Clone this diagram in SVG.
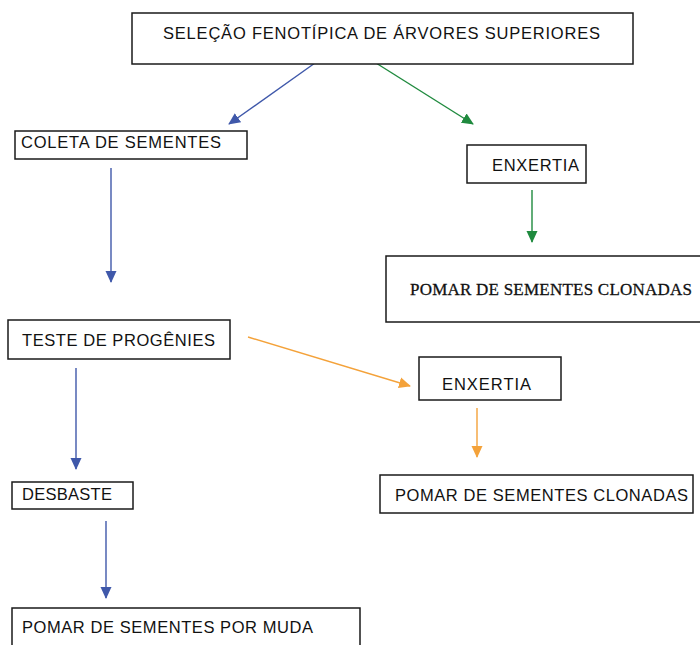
<svg xmlns="http://www.w3.org/2000/svg" width="700" height="645" viewBox="0 0 700 645">
<style>
.box{fill:#fff;stroke:#1a1a1a;stroke-width:1.5}
.t{font-family:"Liberation Sans",Arial,sans-serif;font-size:16.5px;fill:#111}
.s{font-family:"Liberation Serif","Times New Roman",serif;font-size:17px;fill:#111;stroke:#111;stroke-width:0.3}
.b{stroke:#3f58aa;stroke-width:1.4;fill:none}
.g{stroke:#1f8a3e;stroke-width:1.4;fill:none}
.o{stroke:#f4a23a;stroke-width:1.4;fill:none}
</style>
<defs>
<marker id="mb" markerWidth="12" markerHeight="12" refX="11" refY="6" orient="auto" markerUnits="userSpaceOnUse"><path d="M0,0.5 L12,6 L0,11.5 Z" fill="#3f58aa"/></marker>
<marker id="mg" markerWidth="12" markerHeight="12" refX="11" refY="6" orient="auto" markerUnits="userSpaceOnUse"><path d="M0,0.5 L12,6 L0,11.5 Z" fill="#1f8a3e"/></marker>
<marker id="mo" markerWidth="12" markerHeight="12" refX="11" refY="6" orient="auto" markerUnits="userSpaceOnUse"><path d="M0,0.5 L12,6 L0,11.5 Z" fill="#f4a23a"/></marker>
</defs>
<rect width="700" height="645" fill="#fff"/>
<g id="connectors">
<line class="b" x1="315" y1="63" x2="229" y2="124" marker-end="url(#mb)"/>
<line class="g" x1="376" y1="63" x2="473" y2="124" marker-end="url(#mg)"/>
<line class="b" x1="111" y1="168" x2="111" y2="282" marker-end="url(#mb)"/>
<line class="g" x1="532" y1="190" x2="532" y2="242" marker-end="url(#mg)"/>
<line class="b" x1="76" y1="368" x2="76" y2="469" marker-end="url(#mb)"/>
<line class="o" x1="248" y1="337" x2="410" y2="386" marker-end="url(#mo)"/>
<line class="o" x1="477" y1="408" x2="477" y2="457" marker-end="url(#mo)"/>
<line class="b" x1="106" y1="521" x2="106" y2="598" marker-end="url(#mb)"/>
</g>
<g id="selecao">
<rect class="box" x="132" y="13" width="501" height="51"/>
<text class="t" x="163" y="39" textLength="437" lengthAdjust="spacing">SELEÇÃO FENOTÍPICA DE ÁRVORES SUPERIORES</text>
</g>
<g id="coleta">
<rect class="box" x="15" y="131" width="232" height="28"/>
<text class="t" x="21" y="148" textLength="200" lengthAdjust="spacing">COLETA DE SEMENTES</text>
</g>
<g id="enxertia1">
<rect class="box" x="467" y="145" width="119" height="38"/>
<text class="t" x="492" y="171" textLength="87" lengthAdjust="spacing">ENXERTIA</text>
</g>
<g id="pomar-clonadas1">
<path class="box" d="M700,256 H386 V322 H700"/>
<text class="s" x="410" y="295" textLength="282" lengthAdjust="spacing">POMAR DE SEMENTES CLONADAS</text>
</g>
<g id="teste">
<rect class="box" x="8" y="320" width="222" height="39"/>
<text class="t" x="22" y="346" textLength="193" lengthAdjust="spacing">TESTE DE PROGÊNIES</text>
</g>
<g id="enxertia2">
<rect class="box" x="419" y="357" width="142" height="43"/>
<text class="t" x="442" y="390" textLength="89" lengthAdjust="spacing">ENXERTIA</text>
</g>
<g id="pomar-clonadas2">
<rect class="box" x="380" y="475" width="313" height="38"/>
<text class="t" x="395" y="501" textLength="293" lengthAdjust="spacing">POMAR DE SEMENTES CLONADAS</text>
</g>
<g id="desbaste">
<rect class="box" x="12" y="482" width="121" height="27"/>
<text class="t" x="22" y="500" textLength="90" lengthAdjust="spacing">DESBASTE</text>
</g>
<g id="pomar-muda">
<path class="box" d="M12,645 V608 H360 V645"/>
<text class="t" x="22" y="633" textLength="291" lengthAdjust="spacing">POMAR DE SEMENTES POR MUDA</text>
</g>
</svg>
